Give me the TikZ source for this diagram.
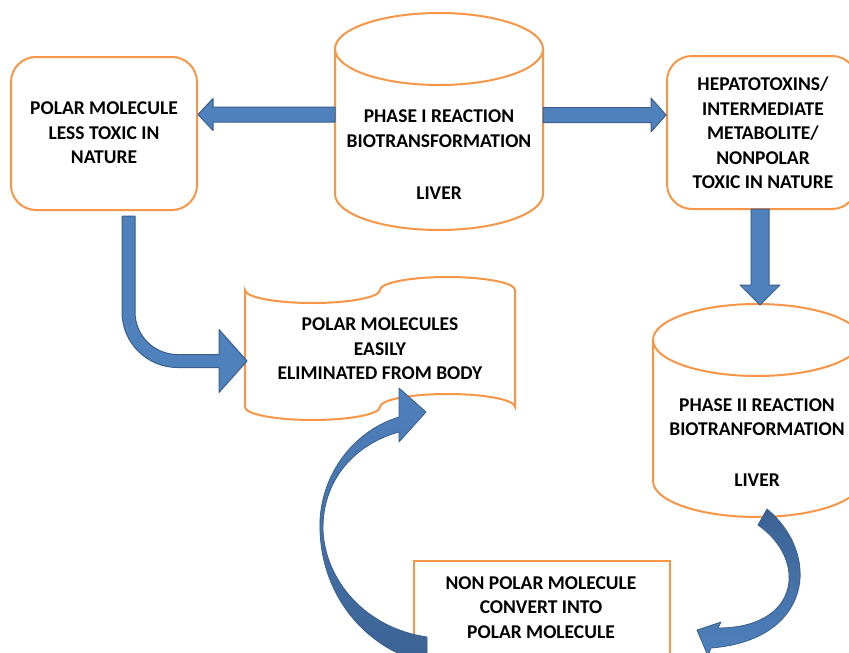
\documentclass[tikz,border=0pt]{standalone}
\usepackage{fontspec}
\setmainfont{Carlito}
\usetikzlibrary{calc}
\definecolor{orng}{HTML}{F79646}
\definecolor{arfill}{HTML}{4F81BD}
\definecolor{ardraw}{HTML}{3A5F8C}
\definecolor{ardark}{HTML}{3B6293}
\begin{document}
\begin{tikzpicture}[x=1pt,y=1pt,
  outl/.style={draw=orng,line width=2pt,fill=white},
  barrow/.style={fill=arfill,draw=ardraw,line width=1pt,line join=round},
  carrow/.style={draw=ardraw,line width=0.8pt,line join=round},
  txt/.style={font=\bfseries\fontsize{19.5}{24.5}\selectfont,align=center,inner sep=0pt}]
\useasboundingbox (0,0) rectangle (849,-653);
\clip (0,0) rectangle (849,-653);
\fill[white] (0,0) rectangle (849,-653);

% rounded boxes
\node[outl,rounded corners=25pt,minimum width=186pt,minimum height=153pt,inner sep=0pt] (lbox) at (104,-133.5) {};
\node[outl,rounded corners=25pt,minimum width=190pt,minimum height=153pt,inner sep=0pt] (rbox) at (762,-132.5) {};

% phase I cylinder
\draw[outl] (335,-49) -- (335,-194) arc[start angle=180,end angle=360,x radius=104pt,y radius=36pt] -- (543,-49) arc[start angle=0,end angle=180,x radius=104pt,y radius=36pt] -- cycle;
\draw[outl,fill=none] (335,-49) arc[start angle=180,end angle=360,x radius=104pt,y radius=36pt];

% phase II cylinder
\draw[outl] (653,-340) -- (653,-481) arc[start angle=180,end angle=360,x radius=104pt,y radius=36pt] -- (861,-340) arc[start angle=0,end angle=180,x radius=104pt,y radius=36pt] -- cycle;
\draw[outl,fill=none] (653,-340) arc[start angle=180,end angle=360,x radius=104pt,y radius=36pt];

% punched tape
\draw[outl] (245,-290) arc[start angle=180,end angle=360,x radius=67.5pt,y radius=13pt] arc[start angle=180,end angle=0,x radius=67.5pt,y radius=13pt] -- (515,-407) arc[start angle=0,end angle=180,x radius=67.5pt,y radius=13pt] arc[start angle=0,end angle=-180,x radius=67.5pt,y radius=13pt] -- cycle;

% non polar box
\node[outl,minimum width=256pt,minimum height=120pt,inner sep=0pt,anchor=north west] (npbox) at (413,-560) {};

% named anchor points
\coordinate (p1w) at (335,-114.5);
\coordinate (p1e) at (543,-115);
\coordinate (lt) at (lbox.east |- p1w);
\coordinate (rt) at (rbox.west |- p1e);
\coordinate (ds) at (760,-209);
\coordinate (dt) at (760,-305);

% straight block arrows
\draw[barrow] ($(p1w)+(0,7.5)$) -- ($(lt)+(15,7.5)$) -- ($(lt)+(15,16)$) -- (lt) -- ($(lt)+(15,-16)$) -- ($(lt)+(15,-7.5)$) -- ($(p1w)+(0,-7.5)$) -- cycle;
\draw[barrow] ($(p1e)+(0,7.5)$) -- ($(rt)+(-15,7.5)$) -- ($(rt)+(-15,17)$) -- (rt) -- ($(rt)+(-15,-17)$) -- ($(rt)+(-15,-7.5)$) -- ($(p1e)+(0,-7.5)$) -- cycle;
\draw[barrow] ($(ds)+(-9,0)$) -- ($(dt)+(-9,20)$) -- ($(dt)+(-20,20)$) -- (dt) -- ($(dt)+(20,20)$) -- ($(dt)+(9,20)$) -- ($(ds)+(9,0)$) -- cycle;

% bent arrow
\draw[barrow] (122,-216) -- (122,-312) arc[start angle=180,end angle=270,radius=55.5pt] -- (219,-367.5) -- (219,-392.5) -- (247,-361) -- (219,-329.5) -- (219,-354.5) -- (177.5,-354.5) arc[start angle=270,end angle=180,radius=42.5pt] -- (135,-216) -- cycle;

% big curved arrow
\shadedraw[carrow,top color=arfill,bottom color=ardark] (399,-417) .. controls (350,-432) and (318,-480) .. (320,-530) .. controls (322,-600) and (370,-652) .. (430,-664) -- (427,-664) -- (427,-637) .. controls (365,-628) and (325,-580) .. (323,-530) .. controls (322,-480) and (355,-444) .. (399,-432) -- (399,-442) -- (426,-412) -- (399,-388) -- cycle;

% small curved arrow
\shadedraw[carrow,top color=ardark,bottom color=arfill] (767,-509) .. controls (822,-555) and (812,-640) .. (711,-648) -- (708,-656) -- (697,-630) -- (721,-622) -- (718,-628) .. controls (800,-628) and (808,-560) .. (758,-525) -- cycle;

% texts
\node[txt] (ltxt) at (104,-133) {POLAR MOLECULE\\LESS TOXIC IN\\NATURE};
\node[txt] (rtxt) at (763,-133) {HEPATOTOXINS/\\INTERMEDIATE\\METABOLITE/\\NONPOLAR\\TOXIC IN NATURE};
\node[txt] (p1txt) at (439,-128.5) {PHASE I REACTION\\BIOTRANSFORMATION};
\node[txt] (p1liv) at (439,-193) {LIVER};
\node[txt] (p2txt) at (757,-417) {PHASE II REACTION\\BIOTRANFORMATION};
\node[txt] (p2liv) at (757,-480) {LIVER};
\node[txt] (poltxt) at (380,-349) {POLAR MOLECULES\\EASILY\\ELIMINATED FROM BODY};
\node[txt] (nptxt) at (541,-607.5) {NON POLAR MOLECULE\\CONVERT INTO\\POLAR MOLECULE};
\end{tikzpicture}
\end{document}
